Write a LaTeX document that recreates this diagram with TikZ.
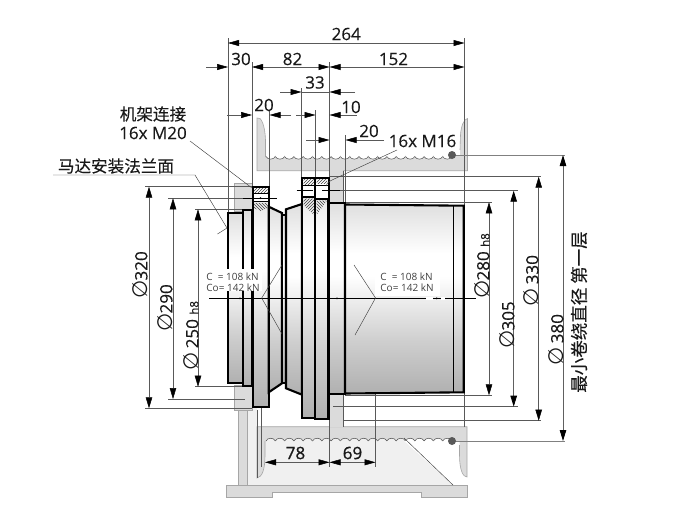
\documentclass[tikz,border=0pt]{standalone}
\usepackage{fontspec}
\setmainfont{Open Sans}[FakeBold=0.3]
\newfontfamily\plainf{Open Sans}
\newfontfamily\boldishf{Open Sans}[FakeBold=0.9]
\newfontfamily\cjk{Noto Sans CJK SC}[FakeBold=0.2]
\newfontfamily\symf{DejaVu Sans}
\usetikzlibrary{arrows.meta,patterns}
\definecolor{fg}{gray}{0.86}
\definecolor{fl}{gray}{0.94}
\definecolor{ln}{gray}{0.35}
\pgfdeclareverticalshading{shaft}{100bp}{color(0bp)=(gray!62!white);color(25bp)=(gray!62!white);color(39bp)=(gray!38!white);color(56bp)=(white);color(62bp)=(white);color(75bp)=(gray!25!white);color(100bp)=(gray!25!white)}
\newcommand{\dia}{{\symf\fontsize{21}{21}\selectfont ∅}}
\tikzset{
 dim/.style={draw=ln,line width=.5pt},
 dimg/.style={draw=gray!75!black,line width=.9pt},
 ext/.style={draw=ln,line width=.45pt},
 tip/.style={-{Triangle[length=11pt,width=6pt,black]}},
 tips/.style={{Triangle[length=11pt,width=6pt,black]}-{Triangle[length=11pt,width=6pt,black]}},
 vtips/.style={{Triangle[length=11pt,width=6.5pt,black]}-{Triangle[length=11pt,width=6.5pt,black]}},
 num/.style={font=\fontsize{17}{17}\selectfont,inner sep=0pt,text=black!90},
 vnum/.style={num,rotate=90},
 cjkt/.style={font=\cjk\fontsize{16.6}{16.6}\selectfont,inner sep=0pt,text=black!90},
 load/.style={font=\plainf\fontsize{10}{10.5}\selectfont,inner sep=0pt,text=black!75,align=left},
 part/.style={draw=black,line width=2.1pt,line join=miter,shading=shaft},
 body/.style={fill=fg,draw=gray!70,line width=.6pt},
 hat/.style={pattern=north east lines,pattern color=black!75},
 hatb/.style={pattern=north west lines,pattern color=black!75},
 lead/.style={draw=black!75,line width=.45pt},
}
\begin{document}
\begin{tikzpicture}[x=1pt,y=-1pt]
\useasboundingbox (0,0) rectangle (696,517);
% ---- housing: base and posts
\fill[fl] (247,408) -- (257,408) -- (257,477) -- (265,441) -- (404,441) -- (453,485) -- (247,485) -- cycle;
\draw[body] (238,410) -- (247.5,410) -- (247.5,485) -- (238,485) -- cycle;
\draw[ext] (257,410) -- (257,426);
\draw[ext] (247.5,485) -- (453,485);
\draw[body] (226.5,485) -- (467,485) -- (467,497) -- (421.5,497) -- (421.5,492.5) -- (272,492.5) -- (272,497) -- (226.5,497) -- cycle;
% ---- upper drum
\fill[fg] (257,170.7) -- (257,118) .. controls (261,116) and (265,125) .. (265.5,140) -- (265.5,155) -- (460,155) -- (460.5,135) .. controls (461,126) and (464,119) .. (467.5,118.5) -- (467.5,170.7) -- cycle;
\draw[gray!70,line width=.6pt] (265.5,157) -- (265.5,140) .. controls (265,125) and (261,116) .. (257,118) -- (257,170.7) -- (467.5,170.7) -- (467.5,118.5) .. controls (464,119) and (461,126) .. (460.5,135) -- (460,150);
\fill[fg] (329.5,170) rectangle (343,204);
\draw[ext] (343,171) -- (343,204);
\draw[ext] (329.5,171) -- (329.5,178);
% ---- lower drum
\fill[fg] (257,426.7) -- (467,426.7) -- (467,477) .. controls (463,477) and (459.5,470) .. (459.5,455) -- (459.5,441) -- (265,441) -- (265,455) .. controls (265,470) and (262,477) .. (257,478) -- cycle;
\draw[gray!70,line width=.6pt] (265,441) -- (265,455) .. controls (265,470) and (262,477) .. (257,478) -- (257,426.7) -- (467,426.7) -- (467,477) .. controls (463,477) and (459.5,470) .. (459.5,455) -- (459.5,445);
\fill[fg] (329.5,394) rectangle (343,427);
\draw[ext] (343,394) -- (343,427);
% ---- scallops
\foreach \k in {0,...,19} {
 \pgfmathsetmacro{\xa}{266+\k*9.3}
 \pgfmathsetmacro{\xb}{\xa+9.3}
 \fill[white] (\xa,150) -- (\xa,156.5) .. controls (\xa+1.5,160) and (\xb-1.5,160) .. (\xb,156.5) -- (\xb,150) -- cycle;
 \draw[black!70,line width=.5pt] (\xa,156.5) .. controls (\xa+1.5,160) and (\xb-1.5,160) .. (\xb,156.5);
 \pgfmathparse{\k<15?"fl":"white"}
 \edef\sc{\pgfmathresult}
 \fill[\sc] (\xa,441) .. controls (\xa+1.5,437.3) and (\xb-1.5,437.3) .. (\xb,441) -- (\xb,443) -- (\xa,443) -- cycle;
 \draw[black!70,line width=.5pt] (\xa,441) .. controls (\xa+1.5,437.3) and (\xb-1.5,437.3) .. (\xb,441);
}
\fill[white] (452,438) -- (459,438) -- (459,445) -- (452,445) -- cycle;
\fill[fg] (452,438) rectangle (459.5,441);
\fill[white] (404,441) -- (408,441) -- (408,443) -- (404,443) -- cycle;
\fill[fl] (404,441) -- (406.5,443.3) -- (404,443.3) -- cycle;
\draw[lead] (404,438) -- (453,485);
% ---- left block
\draw[body] (234.5,183) rectangle (252,211);
\draw[body] (234.5,385) rectangle (252,410);
% ---- extension lines
\draw[ext] (228,38) -- (228,213);
\draw[ext] (252,62) -- (252,188);
\draw[ext] (329.5,62) -- (329.5,178);
\draw[ext] (301.5,88) -- (301.5,178);
\draw[ext] (315.5,110) -- (315.5,178);
\draw[ext] (269.5,110) -- (269.5,190);
\draw[ext] (345.5,135) -- (345.5,205);
\draw[ext] (464.5,38) -- (464.5,205);
\draw[ext] (464.5,392) -- (464.5,427);
\draw[ext] (329.5,405) -- (329.5,467);
\draw[ext] (261.7,298) -- (261.7,467);
\draw[ext] (257,426) -- (257,478);
\draw[ext] (375.5,298) -- (375.5,467);
\draw[ext] (329.5,176.7) -- (541,176.7);
\draw[ext] (340,190.7) -- (518,190.7);
\draw[ext] (345,202.3) -- (492,202.3);
\draw[ext] (345,395.3) -- (492,395.3);
\draw[ext] (333,406.7) -- (518,406.7);
\draw[ext] (343,420.7) -- (541,420.7);
\draw[ext] (145,186.7) -- (252,186.7);
\draw[ext] (168,198.3) -- (245,198.3);
\draw[ext] (195,209.3) -- (243,209.3);
\draw[ext] (195,386.7) -- (243,386.7);
\draw[ext] (168,399) -- (245,399);
\draw[ext] (145,408.3) -- (252,408.3);
\draw[ext,draw=gray] (452,155) -- (565,155);
\draw[ext,draw=gray] (452,441) -- (565,441);
% ---- shaft
\draw[part] (227.7,212.7) rectangle (243.3,383.3);
\draw[part] (243.3,210) rectangle (252,385.7);
\draw[part] (252.7,186.7) rectangle (268.7,407.3);
\draw[part] (268.7,206.7) -- (282,213) -- (282,383.3) -- (268.7,392.3) -- cycle;
\draw[part] (282,215) rectangle (286,382.7);
\draw[part] (286,209.3) -- (302,204) -- (302,394.7) -- (286,388.3) -- cycle;
\draw[part] (302,177.7) rectangle (315.3,418.3);
\draw[part] (315.3,177.7) rectangle (328.5,419);
\draw[part] (329,203.3) rectangle (345,394);
\draw[part] (345,204.5) -- (463.7,205.7) -- (463.7,392.3) -- (345,393.5) -- cycle;
\draw[black,line width=1.4pt] (453.3,205.5) -- (453.3,392.5);
% ---- bolts, left
\fill[white] (253.7,187.7) rectangle (267.7,202);
\fill[hat] (254,188.5) rectangle (267.5,192);
\draw[black,line width=1pt] (253,193) -- (268.5,193);
\draw[black,line width=1.3pt] (253,201.5) -- (268.5,201.5);
\fill[hatb] (254,203) -- (267.5,203) -- (267.5,208) -- (260.5,211) -- (254,208) -- cycle;
\fill[black] (260.5,198) circle (1pt);
\draw[black,line width=.8pt] (243,198) -- (277,198);
% ---- bolts, right
\fill[white] (303,178.7) rectangle (314.3,197);
\fill[white] (316.3,178.7) rectangle (327.5,199);
\fill[hat] (303.5,179.5) rectangle (314,184);
\fill[hat] (316.5,179.5) rectangle (327,183.5);
\draw[black,line width=1pt] (302,185) -- (328.5,185);
\draw[black,line width=1.2pt] (302,197) -- (315.3,197);
\draw[black,line width=1.2pt] (315.3,199) -- (328.5,199);
\fill[hat] (303.5,198.5) -- (314,198.5) -- (314,215) -- (303.5,205) -- cycle;
\fill[hatb] (316.5,200.5) -- (327,200.5) -- (316.5,215) -- cycle;
\draw[black,line width=.8pt] (296.7,190.7) -- (313,190.7);
\draw[black,line width=.5pt] (322,190.7) -- (340,190.7);
% ---- centre line and load labels
\fill[white] (205,269) rectangle (262,291);
\fill[white] (375,267) rectangle (440,296);
\draw[black,line width=.6pt] (209,298.3) -- (476,298.3);
\fill[white] (426,296.5) rectangle (433,300);
\fill[white] (441,296.5) rectangle (445,300);
\fill[black] (240,298.3) circle (1pt) (337,298.3) circle (1pt) (436.7,298.3) circle (1pt);
\coordinate (la) at (261.7,298);
\coordinate (la1) at (282,265);
\coordinate (la2) at (282,334);
\coordinate (lb) at (375.5,298);
\coordinate (lb1) at (354,265);
\coordinate (lb2) at (355,335);
\draw[lead] (la1) -- (la) -- (la2);
\draw[lead] (lb1) -- (lb) -- (lb2);
\node[load] (c1) at (233,282) {C\ \ = 108 kN\\Co= 142 kN};
\node[load] (c2) at (407,282) {C\ \ = 108 kN\\Co= 142 kN};
% ---- beads
\fill[black!65] (452,155) circle (4pt) (452,441) circle (4pt);
% ---- horizontal dimensions
\coordinate (x228a) at (228,43); \coordinate (x464a) at (464.5,43);
\draw[dim,tips] (x228a) -- node[num,above=2.5pt] (d264) {264} (x464a);
\coordinate (s30) at (206,67); \coordinate (x228) at (228,67);
\coordinate (x252) at (252,67); \coordinate (x329) at (329.5,67); \coordinate (x464) at (464.5,67);
\draw[dim,tip] (s30) -- (x228);
\draw[dim,tips] (x252) -- (x329);
\draw[dim,tips] (x329) -- (x464);
\node[num] (d30) at (241,59) {30};
\node[num] (d82) at (292.5,59) {82};
\node[num] (d152) at (393.5,59) {152};
\coordinate (s33a) at (280,92); \coordinate (e33a) at (301.5,92);
\coordinate (s33b) at (355,92); \coordinate (e33b) at (329.5,92);
\draw[dim,tip] (s33a) -- (e33a);
\draw[dim,tip] (s33b) -- (e33b);
\draw[dim] (e33a) -- (e33b);
\node[num] (d33) at (315,82.5) {33};
\coordinate (s20a) at (227,115); \coordinate (e20a) at (252,115);
\coordinate (s20b) at (291,115); \coordinate (e20b) at (269.5,115);
\draw[dim,tip] (s20a) -- (e20a);
\draw[dim,tip] (s20b) -- (e20b);
\node[num] (d20a) at (264,105) {20};
\coordinate (s10a) at (296,115); \coordinate (e10a) at (315.5,115);
\coordinate (s10b) at (356.5,115); \coordinate (e10b) at (329.5,115);
\draw[dim,tip] (s10a) -- (e10a);
\draw[dim,tip] (s10b) -- (e10b);
\node[num] (d10) at (351,107) {10};
\coordinate (s20c) at (306,140); \coordinate (e20c) at (329.5,140);
\coordinate (s20d) at (384,140); \coordinate (e20d) at (345.5,140);
\draw[dim,tip] (s20c) -- (e20c);
\draw[dim,tip] (s20d) -- (e20d);
\node[num] (d20b) at (369,131) {20};
\coordinate (x265) at (265,462.3); \coordinate (x329b) at (329.5,462.3); \coordinate (x375) at (375.5,462.3);
\draw[dim,tips] (x265) -- (x329b);
\draw[dim,tips] (x329b) -- (x375);
\node[num,font=\boldishf\fontsize{17}{17}\selectfont] (d78) at (295.5,453) {78};
\node[num,font=\boldishf\fontsize{17}{17}\selectfont] (d69) at (352.5,453) {69};
% ---- labels and leaders
\node[num] (m16) at (422.5,141) {16x M16};
\coordinate (lm16) at (326,186);
\draw[lead] (397,150) -- (332,180) .. controls (328,182) and (326,184) .. (lm16);
\node[cjkt] (frame) at (153,114) {机架连接};
\node[num] (m20) at (153,133) {16x M20};
\coordinate (lm20s) at (190,141); \coordinate (lm20e) at (252,188);
\draw[lead] (lm20s) -- (lm20e);
\node[cjkt] (motor) at (116,166) {马达安装法兰面};
\coordinate (u1) at (53,175); \coordinate (u2) at (195,175); \coordinate (u3) at (227,228); \coordinate (u4) at (217.5,234);
\draw[lead] (u1) -- (u2) -- (u3) -- (u4);
% ---- vertical dimensions
\coordinate (v320a) at (149,186.7); \coordinate (v320b) at (149,408.3);
\draw[dim,vtips] (v320a) -- (v320b);
\node[vnum] (d320) at (140,275) {\dia 320};
\coordinate (v290a) at (173,198.3); \coordinate (v290b) at (173,399);
\draw[dim,vtips] (v290a) -- (v290b);
\node[vnum] (d290) at (165,308) {\dia 290};
\coordinate (v250a) at (198,209.3); \coordinate (v250b) at (198,386.7);
\draw[dim,vtips] (v250a) -- (v250b);
\node[vnum] (d250) at (191,336) {\dia\ 250 {\fontsize{11.5}{11.5}\selectfont h8}};
\coordinate (v280a) at (489,202.3); \coordinate (v280b) at (489,395.3);
\draw[dim,vtips] (v280a) -- (v280b);
\node[vnum] (d280) at (482,266) {\dia 280 {\fontsize{11.5}{11.5}\selectfont h8}};
\coordinate (v305a) at (513.7,190.7); \coordinate (v305b) at (513.7,406.7);
\draw[dimg,vtips] (v305a) -- (v305b);
\node[vnum] (d305) at (507,325) {\dia 305};
\coordinate (v330a) at (538.7,176.7); \coordinate (v330b) at (538.7,420.7);
\draw[dim,vtips] (v330a) -- (v330b);
\node[vnum] (d330) at (531,281) {\dia\ 330};
\coordinate (v380a) at (563,155) ; \coordinate (v380b) at (563,441);
\draw[dimg,vtips] (v380a) -- (v380b);
\node[vnum] (d380) at (556,340) {\dia\ 380};
\node[cjkt,rotate=90,font=\cjk\fontsize{17.5}{17.5}\selectfont] (layer) at (579,312) {最小卷绕直径 第一层};
\end{tikzpicture}
\end{document}
